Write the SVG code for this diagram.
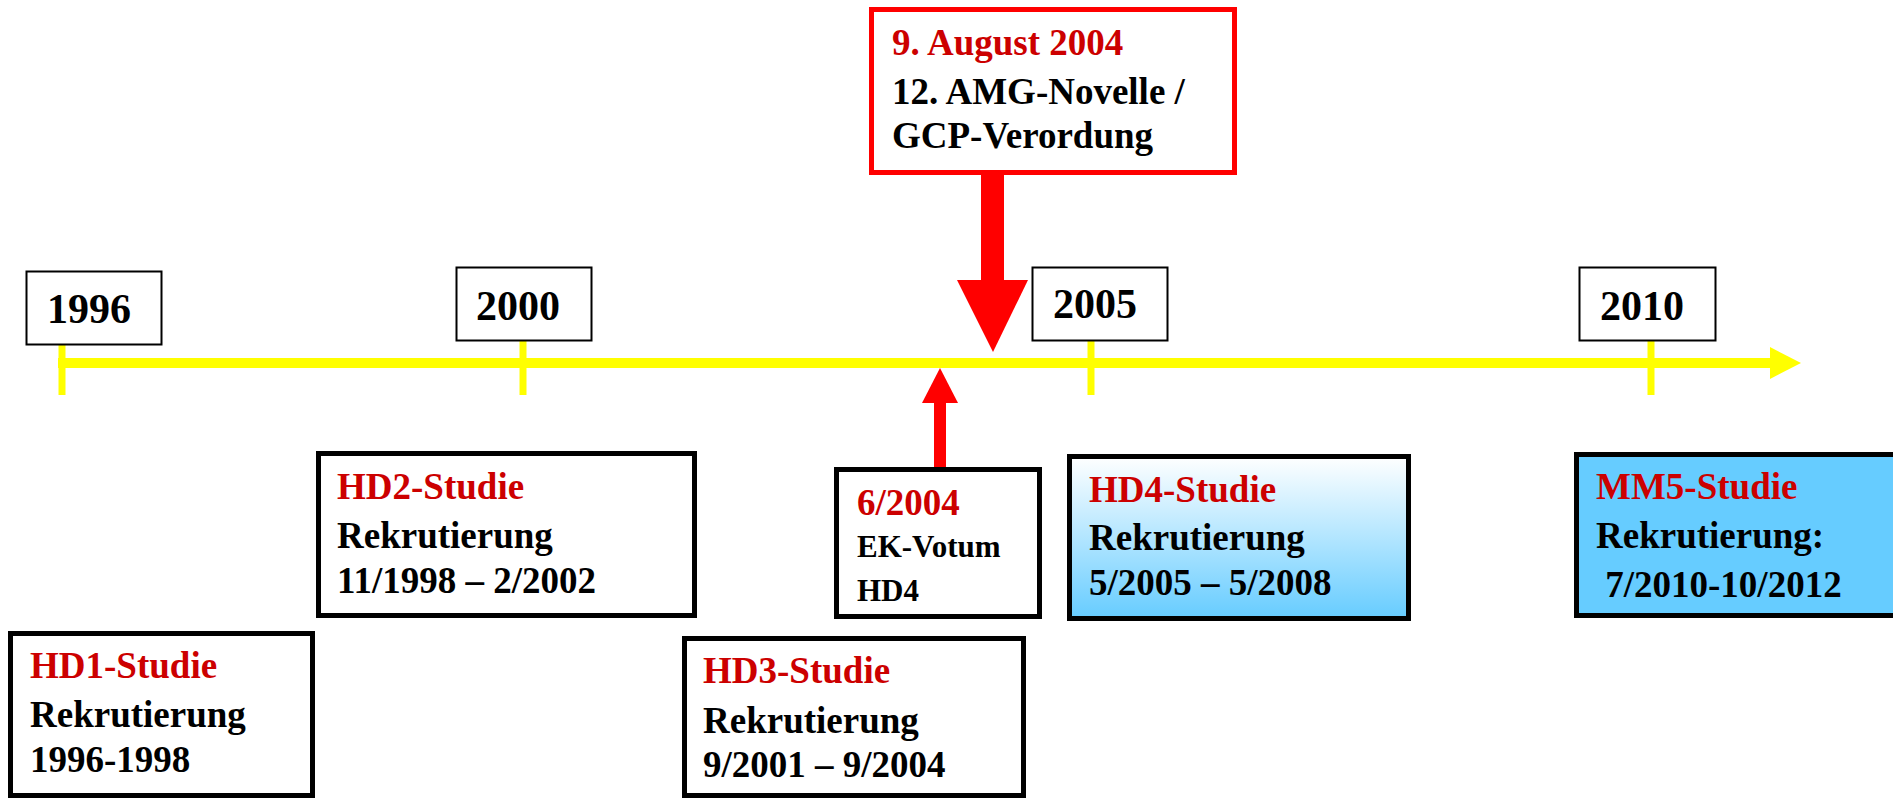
<svg xmlns="http://www.w3.org/2000/svg" width="1893" height="799" viewBox="0 0 1893 799">
<defs>
<linearGradient id="g4" x1="0" y1="0" x2="0" y2="1">
<stop offset="0" stop-color="#ffffff"/>
<stop offset="1" stop-color="#66ccff"/>
</linearGradient>
</defs>
<style>
text{font-family:"Liberation Serif","Times New Roman",serif;font-weight:bold;}
.yr{fill:#fff;stroke:#000;stroke-width:2;}
.yt{font-size:42px;fill:#000;}
.box{fill:#fff;stroke:#000;stroke-width:5;}
.t{font-size:37px;fill:#cc0000;}
.b{font-size:37px;fill:#000;}
.s{font-size:37px;fill:#000;}
.m{font-size:31px;fill:#000;}
.tl{stroke:#ffff00;stroke-width:10;fill:none;}
.tk{stroke:#ffff00;stroke-width:7;}
</style>
<g id="connectors">
<line class="tl" x1="58" y1="363" x2="1772" y2="363"/>
<polygon points="1770,347 1801,363 1770,379" fill="#ffff00"/>
<line class="tk" x1="62" y1="335" x2="62" y2="395"/>
<line class="tk" x1="523" y1="335" x2="523" y2="395"/>
<line class="tk" x1="1091" y1="335" x2="1091" y2="395"/>
<line class="tk" x1="1651" y1="335" x2="1651" y2="395"/>
<rect x="981" y="174" width="23" height="108" fill="#ff0000"/>
<polygon points="957,280 1028,280 993,352" fill="#ff0000"/>
<rect x="934" y="400" width="12" height="68" fill="#ff0000"/>
<polygon points="922,403 958,403 940,368" fill="#ff0000"/>
</g>
<g id="y1996"><rect class="yr" x="26.5" y="271.5" width="135" height="73"/><text class="yt" x="47" y="323">1996</text></g>
<g id="y2000"><rect class="yr" x="456.5" y="267.5" width="135" height="73"/><text class="yt" x="476" y="320">2000</text></g>
<g id="y2005"><rect class="yr" x="1032.5" y="267.5" width="135" height="73"/><text class="yt" x="1053" y="318">2005</text></g>
<g id="y2010"><rect class="yr" x="1579.5" y="267.5" width="136" height="73"/><text class="yt" x="1600" y="320">2010</text></g>
<g id="amg">
<rect x="871.5" y="9.5" width="363" height="163" fill="#fff" stroke="#ff0000" stroke-width="5"/>
<text class="t" x="892" y="55">9. August 2004</text>
<text class="b" x="892" y="104">12. AMG-Novelle /</text>
<text class="b" x="892" y="148">GCP-Verordung</text>
</g>
<g id="hd2">
<rect class="box" x="318.5" y="453.5" width="376" height="162"/>
<text class="t" x="337" y="499">HD2-Studie</text>
<text class="s" x="337" y="548">Rekrutierung</text>
<text class="b" x="337" y="593">11/1998 – 2/2002</text>
</g>
<g id="hd1">
<rect class="box" x="10.5" y="633.5" width="302" height="162"/>
<text class="t" x="30" y="678">HD1-Studie</text>
<text class="s" x="30" y="727">Rekrutierung</text>
<text class="b" x="30" y="772">1996-1998</text>
</g>
<g id="ek">
<rect class="box" x="836.5" y="469.5" width="203" height="147"/>
<text class="t" x="857" y="515">6/2004</text>
<text class="m" x="857" y="557">EK-Votum</text>
<text class="m" x="857" y="601">HD4</text>
</g>
<g id="hd3">
<rect class="box" x="684.5" y="638.5" width="339" height="157"/>
<text class="t" x="703" y="683">HD3-Studie</text>
<text class="s" x="703" y="733">Rekrutierung</text>
<text class="b" x="703" y="777">9/2001 – 9/2004</text>
</g>
<g id="hd4">
<rect class="box" x="1069.5" y="456.5" width="339" height="162" style="fill:url(#g4)"/>
<text class="t" x="1089" y="502">HD4-Studie</text>
<text class="s" x="1089" y="550">Rekrutierung</text>
<text class="b" x="1089" y="595">5/2005 – 5/2008</text>
</g>
<g id="mm5">
<rect class="box" x="1576.5" y="454.5" width="330" height="161" style="fill:#66ccff"/>
<text class="t" x="1596" y="499">MM5-Studie</text>
<text class="s" x="1596" y="548">Rekrutierung:</text>
<text class="b" x="1596" y="597" xml:space="preserve"> 7/2010-10/2012</text>
</g>
</svg>
